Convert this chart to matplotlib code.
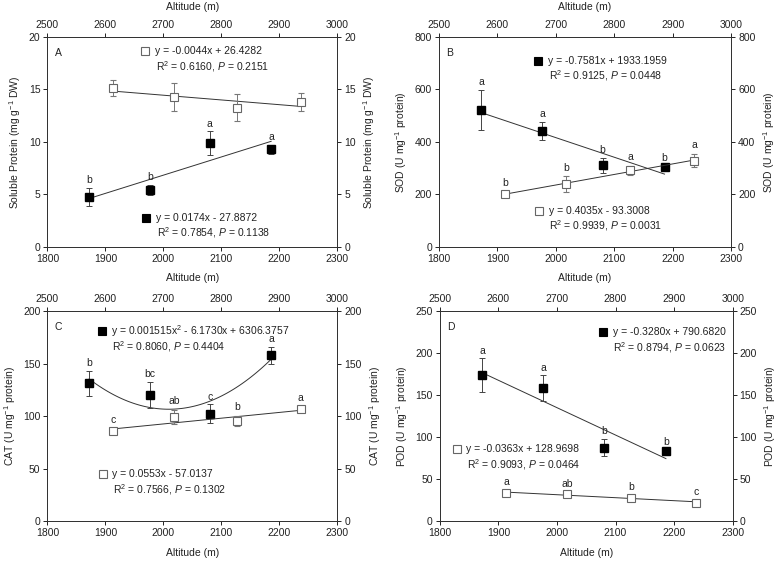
import matplotlib.pyplot as plt
import numpy as np

plt.rcParams['font.family'] = ['Liberation Sans', 'DejaVu Sans']
plt.rcParams['mathtext.fontset'] = 'custom'
plt.rcParams['mathtext.rm'] = 'Liberation Sans'
plt.rcParams['mathtext.it'] = 'Liberation Sans:italic'
plt.rcParams['font.size'] = 7.5
plt.rcParams['text.color'] = '#222222'
plt.rcParams['axes.labelcolor'] = '#222222'
plt.rcParams['xtick.color'] = '#222222'
plt.rcParams['ytick.color'] = '#222222'
plt.rcParams['axes.edgecolor'] = '#333333'
plt.rcParams['axes.linewidth'] = 0.7

## altitudes: filled = bottom axis, open = top axis
alt_f = np.array([1872, 1977, 2080, 2186])
alt_o = np.array([2613, 2718, 2827, 2937])

## A soluble protein
prot_f = [4.72, 5.41, 9.87, 9.30];  prot_f_err = [0.87, 0.47, 1.14, 0.42]
prot_o = [15.13, 14.27, 13.26, 13.83];  prot_o_err = [0.78, 1.36, 1.27, 0.84]
prot_f_let = ['b', 'b', 'a', 'a'];  prot_o_let = ['', '', '', '']

## B SOD
sod_f = [522, 442, 310, 305];  sod_f_err = [77, 33, 30, 5]
sod_o = [202, 238, 292, 329];  sod_o_err = [10, 31, 17, 25]
sod_f_let = ['a', 'a', 'b', 'b'];  sod_o_let = ['b', 'b', 'a', 'a']

## C CAT
cat_f = [131.5, 120.3, 102.2, 158.2];  cat_f_err = [12, 12.7, 9, 8]
cat_o = [85.4, 99.2, 95.4, 106.5];  cat_o_err = [2.5, 7, 5, 2.5]
cat_f_let = ['b', 'bc', 'c', 'a'];  cat_o_let = ['c', 'ab', 'b', 'a']

## D POD
pod_f = [174, 158, 87.5, 83.5];  pod_f_err = [20, 15.5, 10, 2]
pod_o = [33.3, 32.0, 27.5, 22.0];  pod_o_err = [3, 2.5, 2.5, 3]
pod_f_let = ['a', 'a', 'b', 'b'];  pod_o_let = ['a', 'ab', 'b', 'c']

fig = plt.figure(figsize=(7.77, 5.62), dpi=100)


def square(ax, x, y, filled):
    ax.plot([x], [y], 's', ms=5.5, transform=ax.transAxes, clip_on=False,
            mfc='k' if filled else 'white', mec='k' if filled else '#666666', mew=0.8)


def panel(rect, yf, ef, yo, eo, lf, lo, ytop, ystep, ylabel, tag,
          eq_f, eq_o, pos_f, pos_o, deg_f=1, top_label=True):
    ax = fig.add_axes(rect)
    ax.set_xlim(1800, 2300)
    ax.set_ylim(0, ytop)
    ax.set_xticks(np.arange(1800, 2301, 100))
    ax.set_yticks(np.arange(0, ytop + 1, ystep))
    ax.set_xlabel('Altitude (m)', labelpad=7)
    ax.set_ylabel(ylabel)
    ax.tick_params(direction='out', length=3, width=0.7, pad=2)
    axt = ax.twiny()
    axt.set_xlim(2500, 3000)
    axt.set_xticks(np.arange(2500, 3001, 100))
    ## bottom row: top label falls on the bottom label of the row above
    if top_label:
        axt.set_xlabel('Altitude (m)', labelpad=7)
    axt.tick_params(direction='out', length=3, width=0.7, pad=2)
    sec = ax.secondary_yaxis('right')
    sec.set_yticks(np.arange(0, ytop + 1, ystep))
    sec.set_ylabel(ylabel, labelpad=4)
    sec.tick_params(direction='out', length=3, width=0.7, pad=2)

    ## fitted lines
    xx = np.linspace(alt_f[0], alt_f[-1], 100)
    ax.plot(xx, np.polyval(np.polyfit(alt_f, yf, deg_f), xx), color='#333333', lw=0.7)
    xo = np.linspace(alt_o[0], alt_o[-1], 100)
    axt.plot(xo, np.polyval(np.polyfit(alt_o, yo, 1), xo), color='#333333', lw=0.7)

    ax.errorbar(alt_f, yf, yerr=ef, fmt='s', ms=5.5, mfc='k', mec='k', ecolor='#444444',
                elinewidth=0.7, capsize=2.5, capthick=0.7, zorder=3)
    axt.errorbar(alt_o, yo, yerr=eo, fmt='s', ms=5.5, mfc='white', mec='#666666', mew=0.8,
                 ecolor='#777777', elinewidth=0.7, capsize=2.5, capthick=0.7, zorder=3)

    for x, y, e, l in zip(alt_f, yf, ef, lf):
        ax.annotate(l, (x, y + e), xytext=(0, 2), textcoords='offset points',
                    ha='center', va='bottom')
    for x, y, e, l in zip(alt_o, yo, eo, lo):
        axt.annotate(l, (x, y + e), xytext=(0, 2.5), textcoords='offset points',
                     ha='center', va='bottom')

    ax.text(0.025, 0.91, tag, transform=ax.transAxes)
    for (eq, r2), (mx, my), filled in ((eq_f, pos_f, True), (eq_o, pos_o, False)):
        square(ax, mx, my, filled)
        ax.text(mx + 0.033, my, eq, transform=ax.transAxes, va='center')
        ax.text(mx + 0.036, my - 0.072, r2, transform=ax.transAxes, va='center')
    return ax


panel([0.061, 0.561, 0.373, 0.373], prot_f, prot_f_err, prot_o, prot_o_err,
      prot_f_let, prot_o_let, 20, 5, 'Soluble Protein (mg g$^{-1}$ DW)', 'A',
      ('y = 0.0174x - 27.8872', 'R$^2$ = 0.7854, $P$ = 0.1138'),
      ('y = -0.0044x + 26.4282', 'R$^2$ = 0.6160, $P$ = 0.2151'),
      (0.341, 0.138), (0.338, 0.933))

panel([0.565, 0.561, 0.376, 0.373], sod_f, sod_f_err, sod_o, sod_o_err,
      sod_f_let, sod_o_let, 800, 200, 'SOD (U mg$^{-1}$ protein)', 'B',
      ('y = -0.7581x + 1933.1959', 'R$^2$ = 0.9125, $P$ = 0.0448'),
      ('y = 0.4035x - 93.3008', 'R$^2$ = 0.9939, $P$ = 0.0031'),
      (0.340, 0.886), (0.342, 0.171))

panel([0.061, 0.073, 0.373, 0.373], cat_f, cat_f_err, cat_o, cat_o_err,
      cat_f_let, cat_o_let, 200, 50, 'CAT (U mg$^{-1}$ protein)', 'C',
      ('y = 0.001515x$^2$ - 6.1730x + 6306.3757', 'R$^2$ = 0.8060, $P$ = 0.4404'),
      ('y = 0.0553x - 57.0137', 'R$^2$ = 0.7566, $P$ = 0.1302'),
      (0.188, 0.905), (0.191, 0.222), deg_f=2, top_label=False)

panel([0.566, 0.073, 0.377, 0.373], pod_f, pod_f_err, pod_o, pod_o_err,
      pod_f_let, pod_o_let, 250, 50, 'POD (U mg$^{-1}$ protein)', 'D',
      ('y = -0.3280x + 790.6820', 'R$^2$ = 0.8794, $P$ = 0.0623'),
      ('y = -0.0363x + 128.9698', 'R$^2$ = 0.9093, $P$ = 0.0464'),
      (0.557, 0.900), (0.058, 0.342), top_label=False)

fig.savefig('out.png', dpi=100)
